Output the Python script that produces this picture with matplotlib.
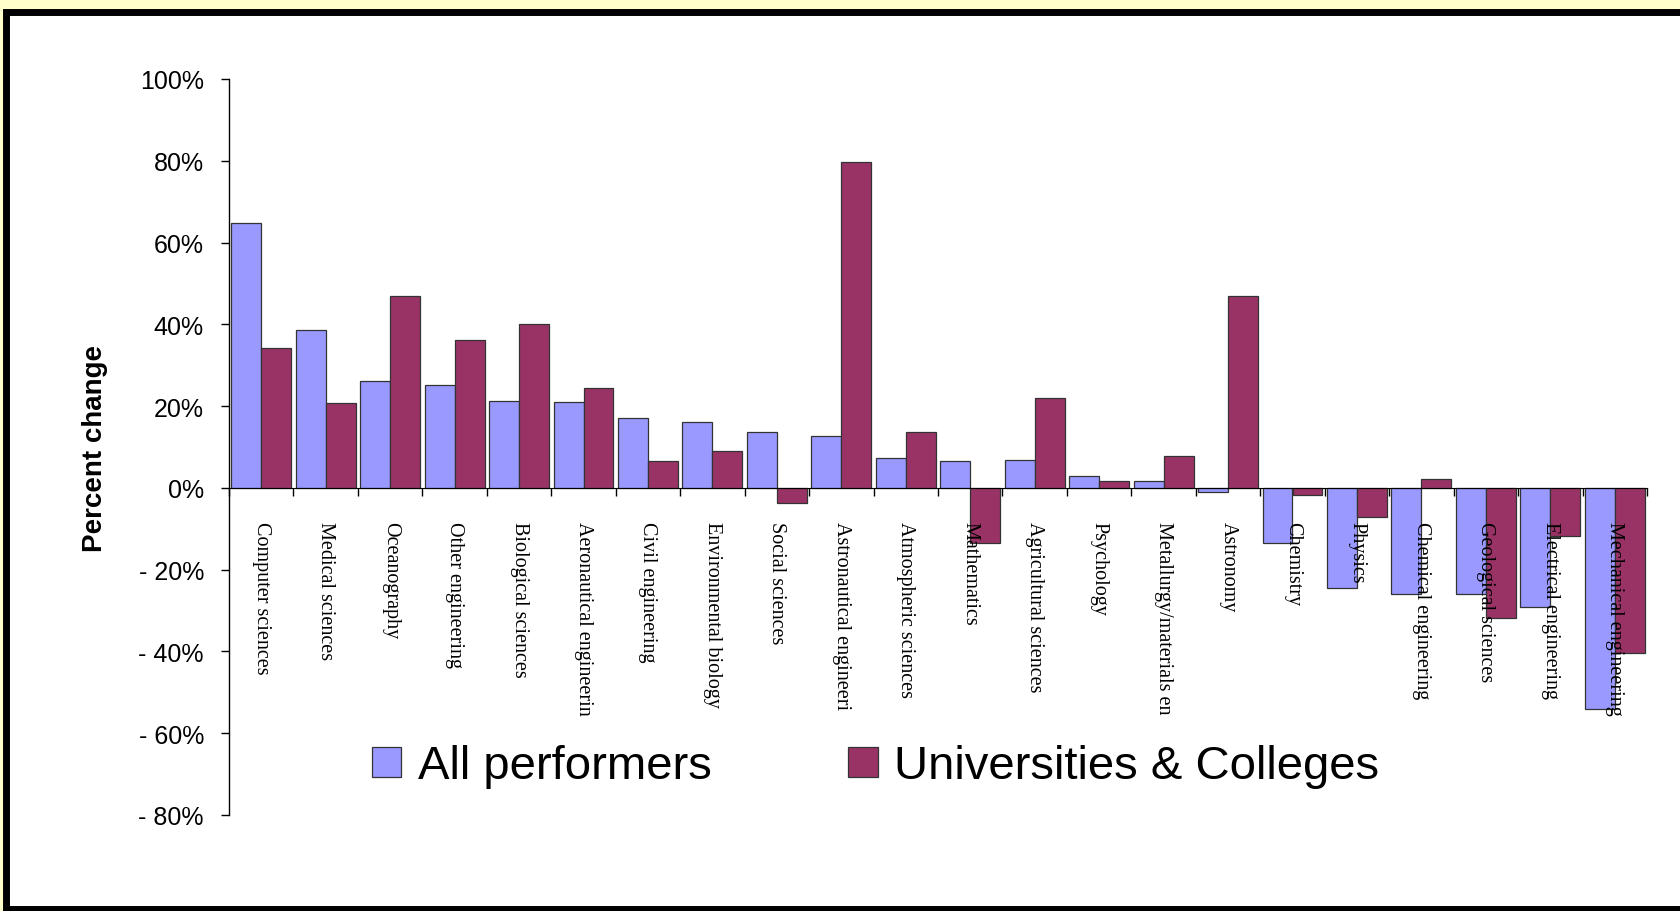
import numpy as np
import matplotlib
matplotlib.use("Agg")
import matplotlib.pyplot as plt
from matplotlib.patches import Rectangle

fields = ["Computer sciences", "Medical sciences", "Oceanography", "Other engineering",
          "Biological sciences", "Aeronautical engineerin", "Civil engineering",
          "Environmental biology", "Social sciences", "Astronautical engineeri",
          "Atmospheric sciences", "Mathematics", "Agricultural sciences", "Psychology",
          "Metallurgy/materials en", "Astronomy", "Chemistry", "Physics",
          "Chemical engineering", "Geological sciences", "Electrical engineering",
          "Mechanical engineering"]
all_perf = [64.7, 38.5, 26.2, 25.2, 21.2, 21.0, 17.0, 16.0, 13.6, 12.8, 7.3,
            6.6, 6.8, 2.9, 1.6, -1.0, -13.4, -24.6, -25.9, -25.9, -29.1, -54.0]
univ = [34.3, 20.7, 46.9, 36.2, 40.1, 24.4, 6.6, 8.9, -3.7, 79.7, 13.6,
        -13.4, 22.0, 1.8, 7.9, 46.9, -1.8, -7.1, 2.1, -31.7, -11.8, -40.3]
yticks = [100, 80, 60, 40, 20, 0, -20, -40, -60, -80]
ytick_labels = ["100%", "80%", "60%", "40%", "20%", "0%", "- 20%", "- 40%", "- 60%", "- 80%"]

fig = plt.figure(figsize=(16.8, 9.12), dpi=100, facecolor="#FFFFCC")

# slide frame
fig.patches.append(Rectangle((6 / 1680, 2 / 912), 1.2, 897 / 912, transform=fig.transFigure,
                             facecolor="white", edgecolor="black", linewidth=5, zorder=0))

ax = fig.add_axes([229 / 1680, 1 - 816 / 912, (1647 - 229) / 1680, (816 - 80) / 912])
ax.set_zorder(2)
ax.set_facecolor("none")
ax.set_axisbelow(False)

x = np.arange(len(fields))
w = 0.465
ax.bar(x - w / 2, all_perf, w, color="#9999FF", edgecolor="#333333", linewidth=0.9,
       label="All performers", zorder=2)
ax.bar(x + w / 2, univ, w, color="#993366", edgecolor="#333333", linewidth=0.9,
       label="Universities & Colleges", zorder=2)

ax.set_xlim(-0.5, len(fields) - 0.5)
ax.set_ylim(-80, 100)

for s in ["top", "right"]:
    ax.spines[s].set_visible(False)
ax.spines["bottom"].set_position(("data", 0))
ax.spines["bottom"].set_zorder(3)
ax.spines["left"].set_linewidth(1)

ax.set_yticks(yticks)
ax.set_yticklabels(ytick_labels, fontsize=18, family="Liberation Sans")
ax.tick_params(axis="y", length=6, width=1, pad=12)

ax.set_xticks(x)
ax.set_xticklabels(fields, rotation=270, fontsize=14.5, family="Liberation Serif",
                   va="top", ha="center")
ax.tick_params(axis="x", which="major", length=0, pad=24)
ax.set_xticks(np.arange(len(fields) + 1) - 0.5, minor=True)
ax.tick_params(axis="x", which="minor", length=6, width=1, direction="out")
ax.xaxis.set_zorder(5)

ax.set_ylabel("Percent change", fontsize=20, fontweight="bold",
              family=["Liberation Sans Narrow", "Liberation Sans"], labelpad=22)

ax.legend(loc="center", bbox_to_anchor=(0.456, 0.066), ncol=2, frameon=False,
          prop={"family": "Liberation Sans", "size": 34}, handlelength=0.62,
          handleheight=0.62, handletextpad=0.35, columnspacing=2.9)

fig.savefig("out.png", dpi=100, facecolor=fig.get_facecolor())
